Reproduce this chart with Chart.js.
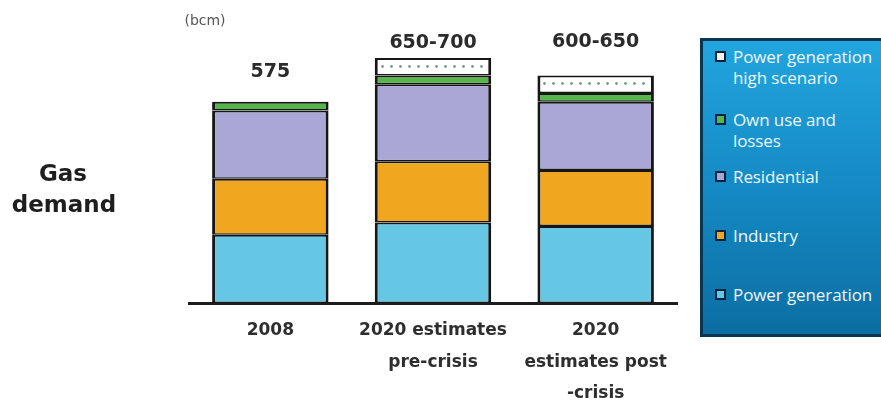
<!DOCTYPE html>
<html>
<head>
<meta charset="utf-8">
<script src="https://cdn.jsdelivr.net/npm/chart.js@4.4.1/dist/chart.umd.min.js"></script>
<style>
  html, body { margin: 0; padding: 0; background: #fff; }
  #wrap { position: relative; width: 881px; height: 401px; overflow: hidden; }
  #chart { position: absolute; left: 0; top: 0; }
  #legend {
    position: absolute; left: 700px; top: 38px; width: 200px; height: 293px;
    border: 3px solid #0b3553; border-right: none;
    background: linear-gradient(180deg, #22a5de 0%, #1487c1 55%, #0c6ea2 100%);
    font-family: "Open Sans", sans-serif; font-size: 17px; color: #eef8fd;
    letter-spacing: -0.1px;
  }
  .item { position: absolute; left: 12px; display: flex; align-items: flex-start; line-height: 21px; white-space: nowrap; }
  .swatch { width: 7px; height: 7px; border: 2px solid #0a2440; margin: 5px 7px 0 0; flex: none; }
</style>
</head>
<body>
<div id="wrap">
  <canvas id="chart" width="881" height="401"></canvas>
  <div id="legend"></div>
</div>
<script>
// Gas demand by sector, bcm
const categories = [['2008'], ['2020 estimates', 'pre-crisis'], ['2020', 'estimates post', '-crisis']];
const seriesNames = ['Power generation', 'Industry', 'Residential', 'Own use and losses', 'Power generation high scenario'];
const powerGeneration = [195, 230, 220];
const industry = [160, 175, 160];
const residential = [195, 220, 195];
const ownUse = [25, 25, 25];
const powerHighScenario = [null, 50, 50];

const colors = ['#66c7e5', '#f0a71f', '#aaa6d5', '#56b64b'];
const legendBreaks = {
  'Own use and losses': ['Own use and', 'losses'],
  'Power generation high scenario': ['Power generation', 'high scenario']
};

// white fill with a row of small dots for the high-scenario increment
function dottedPattern() {
  const c = document.createElement('canvas');
  c.width = 9; c.height = 17;
  const g = c.getContext('2d');
  g.fillStyle = '#ffffff';
  g.fillRect(0, 0, 9, 17);
  g.fillStyle = '#7d9896';
  g.beginPath();
  g.arc(4.5, 15.5, 1.4, 0, Math.PI * 2);
  g.fill();
  return g.createPattern(c, 'repeat');
}

const ctx = document.getElementById('chart').getContext('2d');
const seriesValues = [powerGeneration, industry, residential, ownUse, powerHighScenario];

const datasets = seriesValues.map((vals, i) => ({
  label: seriesNames[i],
  data: vals,
  backgroundColor: i < 4 ? colors[i] : dottedPattern(),
  legendColor: i < 4 ? colors[i] : '#f6f1e2',
  borderColor: '#161616',
  borderWidth: { top: 2, left: 3, right: 3, bottom: 1.5 },
  borderSkipped: false,
  inflateAmount: 0,
  barPercentage: 0.716,
  categoryPercentage: 1.0
}));

// totals label above each bar: base total, or "base-high" when a high scenario exists
const totalsLabels = {
  id: 'totalsLabels',
  afterDatasetsDraw(chart, args, opts) {
    const c = chart.ctx;
    c.save();
    c.font = 'bold 19px "DejaVu Sans"';
    c.fillStyle = '#2b2b2b';
    c.textAlign = 'center';
    c.textBaseline = 'middle';
    categories.forEach((_, i) => {
      const base = powerGeneration[i] + industry[i] + residential[i] + ownUse[i];
      const high = powerHighScenario[i] ? base + powerHighScenario[i] : null;
      const text = high ? base + '-' + high : String(base);
      let topEl = null;
      chart.data.datasets.forEach((ds, d) => {
        if (ds.data[i] != null) topEl = chart.getDatasetMeta(d).data[i];
      });
      c.fillText(text, topEl.x, topEl.y - opts.gaps[i]);
    });
    c.restore();
  }
};

const sideText = {
  id: 'sideText',
  afterDraw(chart) {
    const c = chart.ctx;
    c.save();
    c.textAlign = 'center';
    c.textBaseline = 'middle';
    c.fillStyle = '#1e1e1e';
    c.font = 'bold 23px "DejaVu Sans"';
    c.fillText('Gas', 63, 175);
    c.fillText('demand', 64, 206);
    c.fillStyle = '#555';
    c.font = '14px "DejaVu Sans"';
    c.fillText('(bcm)', 205, 21);
    c.restore();
  }
};

const chart = new Chart(ctx, {
  type: 'bar',
  data: { labels: categories, datasets },
  plugins: [totalsLabels, sideText],
  options: {
    responsive: false,
    animation: false,
    layout: { padding: { left: 189, right: 204, top: 23, bottom: 0 } },
    plugins: {
      legend: { display: false },
      tooltip: { enabled: false },
      totalsLabels: { gaps: [30, 15, 33] }
    },
    scales: {
      x: {
        stacked: true,
        grid: { display: false, drawTicks: false },
        border: { display: true, color: '#1c1c1c', width: 3 },
        ticks: {
          padding: 12,
          color: '#2e2e2e',
          font: { family: 'DejaVu Sans', weight: 'bold', size: 17, lineHeight: 1.85 }
        },
        afterFit(scale) { scale.height = 98; }
      },
      y: { stacked: true, display: false, min: 0, max: 800 }
    }
  }
});

// legend built from the chart's datasets, top series first
const legendEl = document.getElementById('legend');
const legendTops = [5, 68, 125, 184, 243];
chart.data.datasets.slice().reverse().forEach((ds, k) => {
  const item = document.createElement('div');
  item.className = 'item';
  item.style.top = legendTops[k] + 'px';
  const sw = document.createElement('span');
  sw.className = 'swatch';
  sw.style.background = ds.legendColor;
  const txt = document.createElement('span');
  const lines = legendBreaks[ds.label] || [ds.label];
  lines.forEach((ln, j) => {
    if (j) txt.appendChild(document.createElement('br'));
    txt.appendChild(document.createTextNode(ln));
  });
  item.appendChild(sw);
  item.appendChild(txt);
  legendEl.appendChild(item);
});
</script>
</body>
</html>
